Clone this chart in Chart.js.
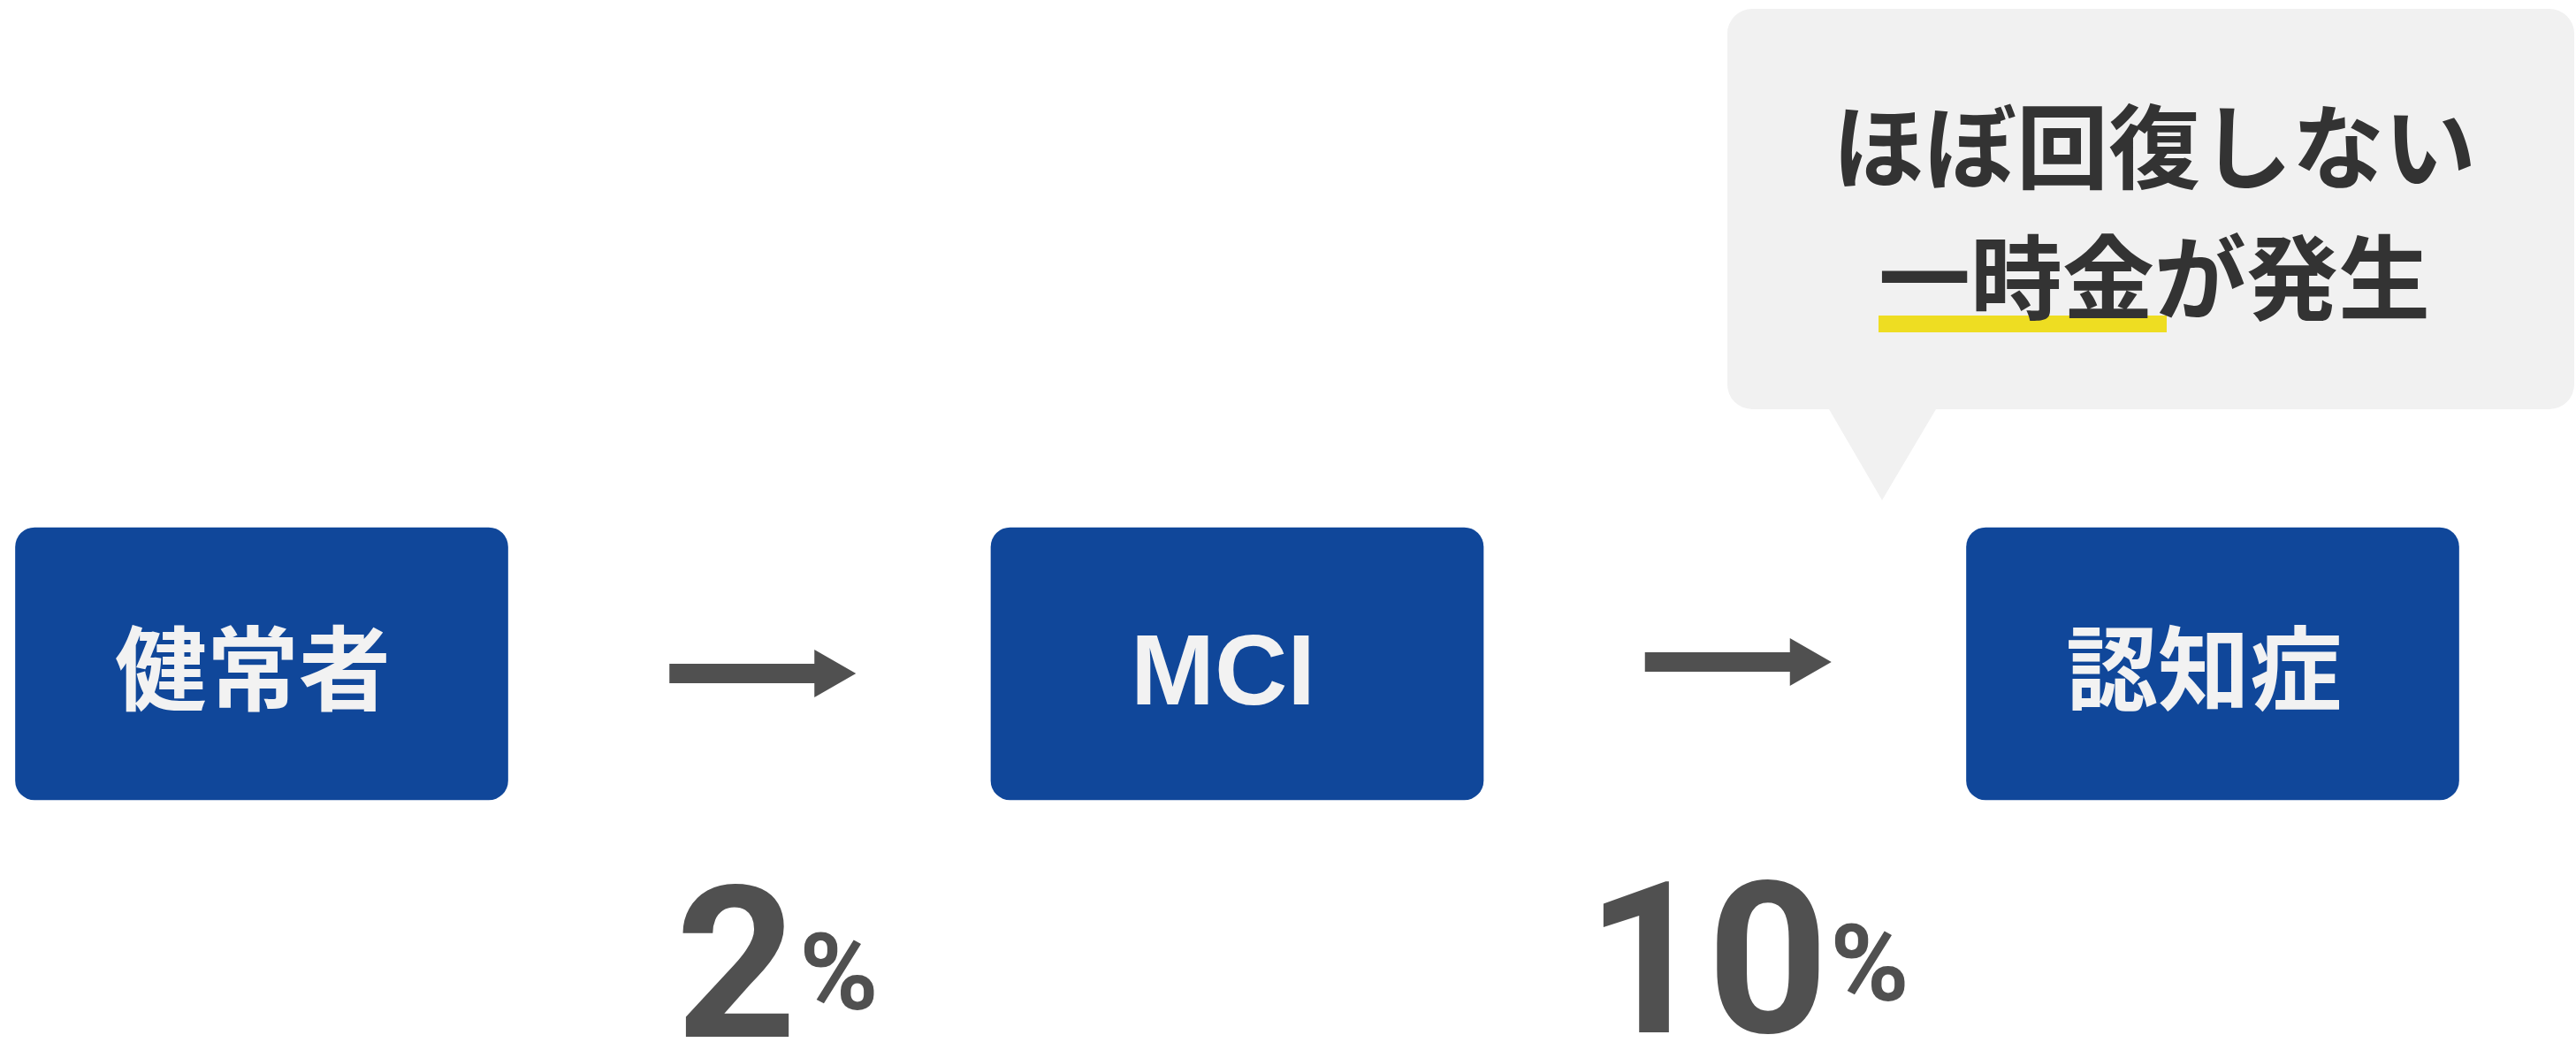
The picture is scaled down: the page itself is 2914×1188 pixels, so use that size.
<!DOCTYPE html>
<html><head><meta charset="utf-8">
<script src="https://cdn.jsdelivr.net/npm/chart.js@4/dist/chart.umd.min.js"></script>
<style>html,body{margin:0;padding:0;background:#fff;}canvas{display:block}</style>
</head><body>
<canvas id="c" width="2914" height="1188"></canvas>
<script>
// ---- data ----
const stages = ['健常者', 'MCI', '認知症'];
const stageLevel = [1, 1, 1];
const transitionRates = [2, 10];
const rateUnit = '%';
const calloutLines = ['ほぼ回復しない', '一時金が発生'];
const highlightText = '一時金';

// ---- style / layout ----
const style = {
  boxColor: '#10479a',
  boxText: '#f2f2f2',
  arrowColor: '#505050',
  rateColor: '#505050',
  calloutFill: '#f1f1f1',
  calloutText: '#333333',
  highlight: '#eedd22',
  jp: '"Noto Sans CJK JP", "Noto Sans", sans-serif',
  latin: '"Liberation Sans", Arial, sans-serif',
  num: 'Roboto, "Liberation Sans", sans-serif',
  arrowYOffset: [11, -2],
  rateBaseline: [1173, 1168],
  pctRaise: [31, 36],
  callout: { x0: 1954, x1: 2912, y0: 10, y1: 463, r: 28, px0: 2069, px1: 2190, tipX: 2129, tipY: 566, cx: 2437, lineY: [162, 310] }
};

const diagramPlugin = {
  id: 'diagram',
  afterDatasetsDraw(chart) {
    const ctx = chart.ctx;
    const bars = chart.getDatasetMeta(0).data;
    ctx.save();
    // box labels
    ctx.fillStyle = style.boxText;
    ctx.textAlign = 'center';
    bars.forEach((el, i) => {
      const cy = (el.y + el.base) / 2;
      const label = stages[i];
      if (/^[\x00-\x7F]+$/.test(label)) {
        ctx.font = 'bold 114px ' + style.latin;
        ctx.textBaseline = 'alphabetic';
        ctx.fillText(label, el.x - 16, cy + 46);
      } else {
        ctx.font = 'bold 104px ' + style.jp;
        ctx.textBaseline = 'middle';
        ctx.fillText(label, el.x - 10, cy + 6);
      }
    });
    // arrows + rates
    for (let i = 0; i < bars.length - 1; i++) {
      const a = bars[i], b = bars[i + 1];
      const gap = ((a.x + a.width / 2) + (b.x - b.width / 2)) / 2;
      const cx = gap + 15;
      const cy = (a.y + a.base) / 2 + style.arrowYOffset[i];
      const L = 211, sh = 11, hh = 27, hl = 47;
      const x0 = cx - L / 2, x1 = cx + L / 2;
      ctx.fillStyle = style.arrowColor;
      ctx.beginPath();
      ctx.moveTo(x0, cy - sh);
      ctx.lineTo(x1 - hl, cy - sh);
      ctx.lineTo(x1 - hl, cy - hh);
      ctx.lineTo(x1, cy);
      ctx.lineTo(x1 - hl, cy + hh);
      ctx.lineTo(x1 - hl, cy + sh);
      ctx.lineTo(x0, cy + sh);
      ctx.closePath();
      ctx.fill();

      // rate text (ink-aligned)
      const numStr = String(transitionRates[i]);
      ctx.fillStyle = style.rateColor;
      ctx.textBaseline = 'alphabetic';
      ctx.textAlign = 'left';
      const numFont = 'bold 239px ' + style.num;
      const pctFont = 'bold 121px ' + style.num;
      ctx.font = numFont;
      const nm = ctx.measureText(numStr);
      const nInkL = -nm.actualBoundingBoxLeft, nInkR = nm.actualBoundingBoxRight;
      ctx.font = pctFont;
      const pm = ctx.measureText(rateUnit);
      const pInkL = -pm.actualBoundingBoxLeft, pInkR = pm.actualBoundingBoxRight;
      const g = 17;
      const nW = nInkR - nInkL, pW = pInkR - pInkL;
      const tot = nW + g + pW;
      const inkStart = cx + 18 - tot / 2;
      const base = style.rateBaseline[i];
      ctx.font = numFont;
      ctx.fillText(numStr, inkStart - nInkL, base);
      ctx.font = pctFont;
      ctx.fillText(rateUnit, inkStart + nW + g - pInkL, base - style.pctRaise[i]);
    }
    // callout
    const c = style.callout;
    ctx.fillStyle = style.calloutFill;
    ctx.beginPath();
    ctx.moveTo(c.x0 + c.r, c.y0);
    ctx.lineTo(c.x1 - c.r, c.y0);
    ctx.arcTo(c.x1, c.y0, c.x1, c.y0 + c.r, c.r);
    ctx.lineTo(c.x1, c.y1 - c.r);
    ctx.arcTo(c.x1, c.y1, c.x1 - c.r, c.y1, c.r);
    ctx.lineTo(c.px1, c.y1);
    ctx.lineTo(c.tipX, c.tipY);
    ctx.lineTo(c.px0, c.y1);
    ctx.lineTo(c.x0 + c.r, c.y1);
    ctx.arcTo(c.x0, c.y1, c.x0, c.y1 - c.r, c.r);
    ctx.lineTo(c.x0, c.y0 + c.r);
    ctx.arcTo(c.x0, c.y0, c.x0 + c.r, c.y0, c.r);
    ctx.closePath();
    ctx.fill();

    ctx.font = 'bold 104px ' + style.jp;
    ctx.textBaseline = 'middle';
    ctx.textAlign = 'left';
    calloutLines.forEach((line, k) => {
      const w = ctx.measureText(line).width;
      const lx = c.cx - w / 2;
      const ly = c.lineY[k];
      const hi = line.indexOf(highlightText);
      if (hi >= 0) {
        const pre = ctx.measureText(line.slice(0, hi)).width;
        const hw = ctx.measureText(highlightText).width;
        ctx.fillStyle = style.highlight;
        ctx.fillRect(lx + pre, ly + 47, hw + 14, 19);
      }
      ctx.fillStyle = style.calloutText;
      ctx.fillText(line, lx, ly + 4);
    });
    ctx.restore();
  }
};

new Chart(document.getElementById('c'), {
  type: 'bar',
  data: {
    labels: stages,
    datasets: [{
      data: stageLevel,
      backgroundColor: style.boxColor,
      barThickness: 557,
      borderRadius: 22,
      borderSkipped: false,
      clip: false
    }]
  },
  options: {
    responsive: false,
    devicePixelRatio: 1,
    animation: false,
    layout: { padding: { left: 296, right: 411, top: 0, bottom: 0 } },
    plugins: { legend: { display: false }, tooltip: { enabled: false } },
    scales: {
      x: { display: false, offset: false, grid: { display: false } },
      y: { display: false, min: -0.9188, max: 2.938, grid: { display: false } }
    }
  },
  plugins: [diagramPlugin]
});
</script>
</body></html>
